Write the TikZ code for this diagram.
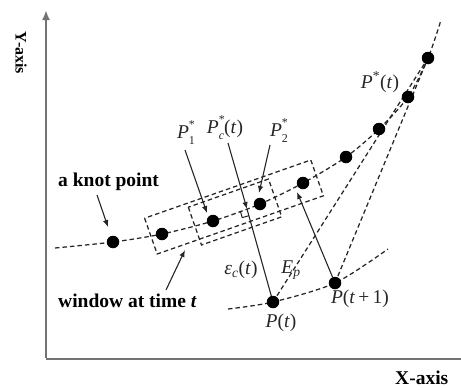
\documentclass[tikz,border=0pt]{standalone}
\usepackage{fontspec}
\setmainfont{Liberation Serif}
\usetikzlibrary{arrows.meta}
\newcommand{\supsubx}[2]{\rlap{\raisebox{0.5em}{\fontsize{12}{12}\selectfont #1}}\raisebox{-0.32em}{\fontsize{12}{12}\selectfont #2}}
\begin{document}
\begin{tikzpicture}[x=1pt,y=-1pt,
  dot/.style={circle, fill=black, inner sep=0pt, minimum size=12.5pt},
  dline/.style={line width=1.25pt, dash pattern=on 4.5pt off 3pt, black!85},
  arr/.style={line width=1.1pt, black!85, -{Latex[length=7pt,width=5.5pt]}},
  sline/.style={line width=1.1pt, black!85},
  axisline/.style={line width=2.4pt, black!55},
  mlbl/.style={inner sep=0pt, font=\fontsize{19.5}{21}\selectfont, black!85},
  blbl/.style={inner sep=0pt, font=\fontsize{19.5}{22}\selectfont\bfseries}]
\useasboundingbox (0,0) rectangle (461,389);

% positions
\coordinate (c1) at (113,242);
\coordinate (c2) at (162,234);
\coordinate (c3) at (213,221);
\coordinate (c4) at (260,204);
\coordinate (c5) at (303,183);
\coordinate (c6) at (346,157);
\coordinate (c7) at (379,129);
\coordinate (c8) at (408,97);
\coordinate (c9) at (428,58);
\coordinate (cs) at (55,248);
\coordinate (ce) at (441,20);
\coordinate (cp) at (273,302);
\coordinate (cq) at (335,283);
\coordinate (ls) at (228,309);
\coordinate (le) at (388,249);
\coordinate (F) at (247,209);

% axes
\coordinate (O) at (46,359);
\coordinate (Yt) at (46,10);
\coordinate (Xr) at (461,359);
\draw[axisline] (O) -- (Xr);
\draw[axisline, -{Latex[length=10pt,width=8pt]}] ([yshift=1.2pt]O) -- (Yt);

% curves
\draw[dline] plot[smooth] coordinates {(cs) (c1) (c2) (c3) (c4) (c5) (c6) (c7) (c8) (c9) (ce)};
\draw[dline] plot[smooth] coordinates {(ls) (cp) (cq) (le)};
\draw[dline] (cp) -- (c9);
\draw[dline] (cq) -- (c9);

% windows
\coordinate (w1) at (144.6,218.2);
\coordinate (w2) at (157.2,254);
\coordinate (w3) at (323.4,195.8);
\coordinate (w4) at (310.8,160);
\draw[dline] (w1) -- (w2) -- (w3) -- (w4) -- cycle;
\coordinate (v1) at (188.3,207.2);
\coordinate (v2) at (201.5,245);
\coordinate (v3) at (281.7,216.8);
\coordinate (v4) at (268.5,179);
\draw[dline] (v1) -- (v2) -- (v3) -- (v4) -- cycle;

% perpendicular from P(t)
\draw[sline] (cp) -- (F);
\coordinate (ra1) at (240.3,210.9);
\coordinate (ra2) at (242.2,217.6);
\coordinate (ra3) at (248.9,215.7);
\draw[sline, line width=1pt] (ra1) -- (ra2) -- (ra3);

% dots
\node[dot] (k1) at (c1) {};
\node[dot] (k2) at (c2) {};
\node[dot] (k3) at (c3) {};
\node[dot] (k4) at (c4) {};
\node[dot] (k5) at (c5) {};
\node[dot] (k6) at (c6) {};
\node[dot] (k7) at (c7) {};
\node[dot] (k8) at (c8) {};
\node[dot] (k9) at (c9) {};
\node[dot] (pt) at (cp) {};
\node[dot] (pt1) at (cq) {};

% labels
\node[blbl, anchor=base west] (knot) at (58,186) {a knot point};
\node[blbl, anchor=base west] (win) at (58,307) {window at time \textit{t}};
\node[blbl, anchor=base west] (xl) at (395,384) {X-axis};
\node[inner sep=0pt, font=\fontsize{16}{18}\selectfont\bfseries, rotate=-90] (yl) at (21,53) {Y-axis};

\node[mlbl] (lpt) at (380,82) {\textit{P}\textsuperscript{*}(\textit{t})};
\node[mlbl] (lp1) at (186,133) {\textit{P}\supsubx{*}{1}};
\node[mlbl] (lpc) at (225,128) {\textit{P}\supsubx{*}{\textit{c}}(\textit{t})};
\node[mlbl] (lp2) at (279,131) {\textit{P}\supsubx{*}{2}};
\node[mlbl] (leps) at (241,270) {\textit{ε}\textsubscript{\textit{c}}(\textit{t})};
\node[mlbl] (lep) at (291,270) {\textit{E}\textsubscript{\textit{p}}};
\node[mlbl] (lptt) at (281,323) {\textit{P}(\textit{t})};
\node[mlbl] (lpt1) at (360,299) {\textit{P}(\textit{t}\,+\,1)};

% arrows
\coordinate (a1s) at (97,195);  \coordinate (a1e) at (108,227);
\coordinate (a2s) at (166,290); \coordinate (a2e) at (185,250);
\coordinate (a3s) at (185,150); \coordinate (a3e) at (207,213);
\coordinate (a4s) at (228,143);
\coordinate (a5s) at (270,145); \coordinate (a5e) at (259,193);
\coordinate (a6e) at (297,192);
\draw[arr] (a1s) -- (a1e);
\draw[arr] (a2s) -- (a2e);
\draw[arr] (a3s) -- (a3e);
\draw[arr] (a4s) -- (F);
\draw[arr] (a5s) -- (a5e);
\draw[arr] (pt1) -- (a6e);
\end{tikzpicture}
\end{document}
